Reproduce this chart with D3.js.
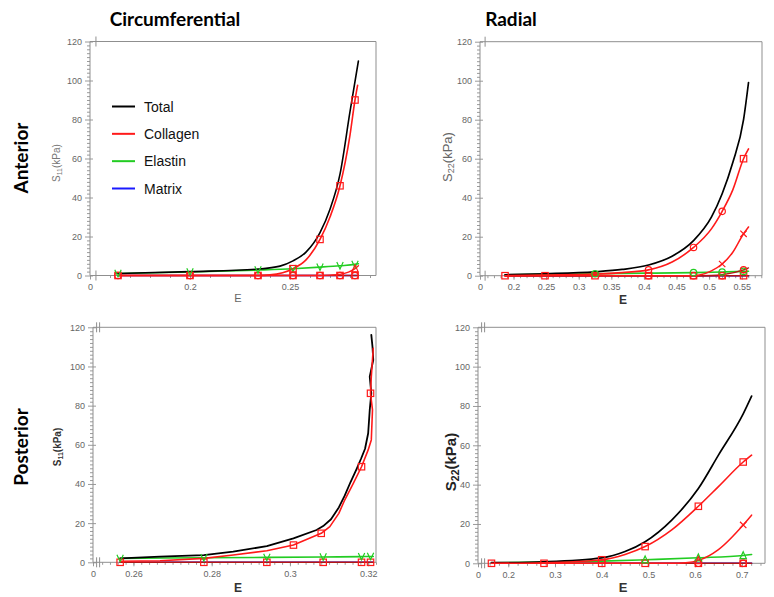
<!DOCTYPE html>
<html>
<head>
<meta charset="utf-8">
<script src="https://cdn.jsdelivr.net/npm/d3@7"></script>
<style>
  body { margin: 0; background: #fff; }
  svg { display: block; }
</style>
</head>
<body>
<svg id="chart" width="774" height="597"></svg>
<script>
// ---------------- data ----------------
const legendLabels = ["Total", "Collagen", "Elastin", "Matrix"];
const yTicks = [0, 20, 40, 60, 80, 100, 120];

// Anterior – circumferential (S11 vs E)
const acSampleE = [0.164, 0.200, 0.234, 0.2515, 0.265, 0.275, 0.2825];
const acTotalE  = [0.164, 0.200, 0.234, 0.245, 0.2515, 0.258, 0.265, 0.270, 0.275, 0.280, 0.2842];
const acTotalS  = [1.0, 2.0, 3.3, 4.8, 7.5, 12, 22, 34, 52, 84, 110];
const acColE    = [0.164, 0.200, 0.234, 0.240, 0.2515, 0.258, 0.265, 0.270, 0.275, 0.280, 0.2825, 0.2838];
const acColS    = [0, 0, 0, 0.3, 3.5, 8, 18.5, 30, 46, 72, 90, 97.5];
const acCol2E   = [0.164, 0.200, 0.234, 0.2515, 0.265, 0.270, 0.275, 0.2825, 0.2842];
const acCol2S   = [0, 0, 0, 0, 0, 0.2, 0.6, 3.5, 5];
const acElaE    = [0.164, 0.200, 0.234, 0.2515, 0.265, 0.275, 0.2825, 0.2842];
const acElaS    = [1.0, 1.8, 2.8, 3.5, 4.3, 5.0, 5.7, 6.0];
const acZeroE   = [0.164, 0.200, 0.234, 0.2515, 0.265, 0.275, 0.2825, 0.2842];
const acZeroS   = [0, 0, 0, 0, 0, 0, 0, 0];

// Anterior – radial (S22 vs E)
const arSampleE = [0.187, 0.2483, 0.325, 0.4071, 0.4761, 0.520, 0.5528];
const arTotalE  = [0.187, 0.2483, 0.325, 0.3666, 0.4071, 0.4432, 0.4761, 0.5035, 0.520, 0.5363, 0.5528, 0.5604];
const arTotalS  = [0.5, 1.0, 2.0, 3.2, 5.5, 10, 18, 30, 42, 58, 80, 99];
const arColE    = [0.187, 0.2483, 0.325, 0.3666, 0.4071, 0.4432, 0.4761, 0.5035, 0.520, 0.5363, 0.5528, 0.5604];
const arColS    = [0, 0.3, 0.8, 1.6, 3, 7, 14.5, 24, 33, 44, 60, 65];
const arCol2E   = [0.187, 0.2483, 0.325, 0.4071, 0.4761, 0.487, 0.5035, 0.520, 0.5363, 0.5528, 0.5604];
const arCol2S   = [0, 0, 0, 0, 0, 0.5, 2.5, 6, 12, 21.5, 25];
const arCol3E   = [0.187, 0.2483, 0.325, 0.4071, 0.4761, 0.5035, 0.520, 0.5528, 0.5604];
const arCol3S   = [0, 0, 0, 0, 0, 0.1, 0.5, 3, 4];
const arElaE    = [0.187, 0.2483, 0.325, 0.4071, 0.4761, 0.520, 0.5528, 0.5604];
const arElaS    = [0.5, 0.7, 1.0, 1.3, 1.6, 1.9, 2.2, 2.3];
const arZeroE   = [0.187, 0.2483, 0.325, 0.4071, 0.4761, 0.520, 0.5528, 0.5604];
const arZeroS   = [0, 0, 0, 0, 0, 0, 0, 0];

// Posterior – circumferential (S11 vs E)
const pcSampleE = [0.2566, 0.2780, 0.2941, 0.3085, 0.3183, 0.3206];
const pcTotalE  = [0.2566, 0.2668, 0.2780, 0.2855, 0.2941, 0.3009, 0.3068, 0.3085, 0.3105, 0.3125, 0.3140, 0.3155, 0.3170, 0.3182, 0.3192, 0.3200, 0.3204, 0.3208, 0.3204, 0.3213, 0.3211, 0.3208];
const pcTotalS  = [2.0, 2.9, 3.7, 5.4, 8.3, 12.2, 16.5, 18.5, 22, 28, 34, 41, 47.5, 53, 58, 65.9, 77.8, 86.3, 94.8, 103.3, 110.1, 116.1];
const pcColE    = [0.2566, 0.2668, 0.2780, 0.2855, 0.2941, 0.3009, 0.3080, 0.3102, 0.3125, 0.3140, 0.3162, 0.3183, 0.3200, 0.3208, 0.3211, 0.3206, 0.3208, 0.3213];
const pcColS    = [0.5, 0.8, 2.0, 3.7, 5.9, 8.8, 14.8, 18.2, 25, 31.8, 40.3, 48.8, 57.4, 62.5, 77.8, 86.3, 94.8, 109.3];
const pcElaE    = [0.2566, 0.2780, 0.2941, 0.3085, 0.3183, 0.3206, 0.3213];
const pcElaS    = [2.0, 2.3, 2.5, 2.7, 2.9, 3.0, 3.0];
const pcZeroE   = [0.2566, 0.2780, 0.2941, 0.3085, 0.3183, 0.3206, 0.3213];
const pcZeroS   = [0, 0, 0, 0, 0, 0, 0];

// Posterior – radial (S22 vs E)
const prSampleE = [0.164, 0.2765, 0.400, 0.493, 0.607, 0.703];
const prTotalE  = [0.164, 0.2765, 0.400, 0.450, 0.493, 0.550, 0.607, 0.650, 0.703, 0.721];
const prTotalS  = [0.3, 0.8, 2.8, 6, 11, 22, 38, 55, 76, 85];
const prColE    = [0.164, 0.2765, 0.400, 0.450, 0.493, 0.550, 0.607, 0.650, 0.703, 0.721];
const prColS    = [0, 0.3, 1.8, 4.5, 8.5, 17, 29, 39, 51.5, 55];
const prCol2E   = [0.164, 0.2765, 0.400, 0.493, 0.550, 0.580, 0.607, 0.650, 0.703, 0.721];
const prCol2S   = [0, 0, 0, 0, 0, 0.3, 1.5, 7, 19.5, 24.5];
const prElaE    = [0.164, 0.2765, 0.400, 0.493, 0.607, 0.703, 0.721];
const prElaS    = [0.3, 0.6, 1.1, 1.8, 2.8, 4.0, 4.5];
const prZeroE   = [0.164, 0.2765, 0.400, 0.493, 0.607, 0.703, 0.721];
const prZeroS   = [0, 0, 0, 0, 0, 0, 0];

// ---------------- styling ----------------
const COLORS = { total: "#000000", collagen: "#ff1a1a", elastin: "#22cc22", matrix: "#1a1aff", zero: "#b31515" };
const FRAME = "#8f8f8f";
const TICK_TXT = "#666";
const FONT = '"Liberation Sans", Arial, Helvetica, sans-serif';
const HEAD_FONT = 'Lato, "Open Sans", sans-serif';

const svg = d3.select("#chart");

const pairs = (E, S) => E.map((e, i) => [e, S[i]]);
const fmtTick = v => String(+v.toFixed(3));

const panels = [
  {
    axisX: 90, breakX: 97, right: 376, top: 41.5, bottom: 275.5,
    dom: [0.1535, 0.293], major: [0.2, 0.25], minor: d3.range(0.16, 0.2905, 0.01),
    breaks: 1, sub: "11",
    yTitle: { x: 57, y: 163, size: 10, weight: "normal", fill: "#777" },
    eTitle: { x: 238, y: 302, size: 11, weight: "normal", fill: "#666" },
    legend: true,
    series: [
      { E: acZeroE, S: acZeroS, color: COLORS.matrix, w: 1.6, marks: [] },
      { E: acZeroE, S: acZeroS, color: COLORS.zero, w: 1.6, marks: [["square", acSampleE], ["circle", acSampleE]], mcolor: COLORS.collagen },
      { E: acElaE, S: acElaS, color: COLORS.elastin, w: 1.6, marks: [["v", acSampleE]] },
      { E: acCol2E, S: acCol2S, color: COLORS.collagen, w: 1.4, marks: [["tri", [0.2825]]] },
      { E: acTotalE, S: acTotalS, color: COLORS.total, w: 1.6, marks: [] },
      { E: acColE, S: acColS, color: COLORS.collagen, w: 1.6, marks: [["square", [0.2515, 0.265, 0.275, 0.2825]]] }
    ]
  },
  {
    axisX: 480, breakX: 486, right: 762, top: 41.7, bottom: 275.7,
    dom: [0.1578, 0.5811], major: [0.2, 0.25, 0.3, 0.35, 0.4, 0.45, 0.5, 0.55], minor: d3.range(0.16, 0.581, 0.01),
    breaks: 1, sub: "22",
    yTitle: { x: 449, y: 157, size: 13, weight: "normal", fill: "#666" },
    eTitle: { x: 623, y: 304, size: 12, weight: "bold", fill: "#333" },
    series: [
      { E: arZeroE, S: arZeroS, color: COLORS.matrix, w: 1.6, marks: [] },
      { E: arZeroE, S: arZeroS, color: COLORS.zero, w: 1.6, marks: [["square", arSampleE], ["circle", [0.4071, 0.4761, 0.52]]], mcolor: COLORS.collagen },
      { E: arElaE, S: arElaS, color: COLORS.elastin, w: 1.6, marks: [["circle", [0.325, 0.4761, 0.52, 0.5528]]] },
      { E: arCol3E, S: arCol3S, color: COLORS.zero, w: 1.4, marks: [["circle", [0.5528]]], mcolor: COLORS.collagen },
      { E: arCol2E, S: arCol2S, color: COLORS.collagen, w: 1.5, marks: [["x", [0.52, 0.5528]]] },
      { E: arTotalE, S: arTotalS, color: COLORS.total, w: 1.7, marks: [] },
      { E: arColE, S: arColS, color: COLORS.collagen, w: 1.6, marks: [["circle", [0.4071, 0.4761, 0.52]], ["square", [0.5528]]] }
    ]
  },
  {
    axisX: 93, breakX: 99, right: 376, top: 327.3, bottom: 562.3,
    dom: [0.2512, 0.3220], major: [0.26, 0.28, 0.3, 0.32], minor: d3.range(0.252, 0.3221, 0.002),
    breaks: 2, sub: "11",
    yTitle: { x: 58, y: 447, size: 10, weight: "bold", fill: "#333" },
    eTitle: { x: 238, y: 592, size: 12, weight: "bold", fill: "#333" },
    series: [
      { E: pcZeroE, S: pcZeroS, color: COLORS.matrix, w: 1.6, marks: [] },
      { E: pcZeroE, S: pcZeroS, color: COLORS.zero, w: 1.6, marks: [["square", pcSampleE]], mcolor: COLORS.collagen },
      { E: pcElaE, S: pcElaS, color: COLORS.elastin, w: 1.6, marks: [["v", pcSampleE]] },
      { E: pcTotalE, S: pcTotalS, color: COLORS.total, w: 1.8, marks: [], linear: true },
      { E: pcColE, S: pcColS, color: COLORS.collagen, w: 1.6, marks: [["square", [0.3009, 0.3080, 0.3183, 0.3206]]], linear: true }
    ]
  },
  {
    axisX: 478, breakX: 484, right: 765, top: 327.3, bottom: 563.3,
    dom: [0.148, 0.7497], major: [0.2, 0.3, 0.4, 0.5, 0.6, 0.7], minor: d3.range(0.16, 0.741, 0.02),
    breaks: 2, sub: "22",
    yTitle: { x: 452, y: 462, size: 15, weight: "bold", fill: "#222" },
    eTitle: { x: 623, y: 592, size: 13, weight: "bold", fill: "#333" },
    series: [
      { E: prZeroE, S: prZeroS, color: COLORS.matrix, w: 1.6, marks: [] },
      { E: prZeroE, S: prZeroS, color: COLORS.zero, w: 1.6, marks: [["square", prSampleE], ["circle", [0.607, 0.703]]], mcolor: COLORS.collagen },
      { E: prElaE, S: prElaS, color: COLORS.elastin, w: 1.6, marks: [["tri", [0.493, 0.607, 0.703]]] },
      { E: prCol2E, S: prCol2S, color: COLORS.collagen, w: 1.5, marks: [["tri", [0.607]], ["x", [0.703]]] },
      { E: prTotalE, S: prTotalS, color: COLORS.total, w: 1.7, marks: [] },
      { E: prColE, S: prColS, color: COLORS.collagen, w: 1.6, marks: [["square", [0.4, 0.493, 0.607, 0.703]]] }
    ]
  }
];

function drawMarker(g, type, cx, cy, color) {
  const s = 3.2;
  let el;
  if (type === "square") {
    el = g.append("rect").attr("x", cx - s).attr("y", cy - s).attr("width", 2 * s).attr("height", 2 * s);
  } else if (type === "circle") {
    el = g.append("circle").attr("cx", cx).attr("cy", cy).attr("r", s);
  } else if (type === "tri") {
    el = g.append("path").attr("d", `M${cx},${cy - s - 0.6}L${cx + s},${cy + s}L${cx - s},${cy + s}Z`);
  } else if (type === "x") {
    el = g.append("path").attr("d", `M${cx - s},${cy - s}L${cx + s},${cy + s}M${cx + s},${cy - s}L${cx - s},${cy + s}`);
  } else {
    el = g.append("path").attr("d", `M${cx - s},${cy - s - 0.5}L${cx},${cy + s}L${cx + s},${cy - s - 0.5}`);
  }
  el.attr("fill", "none").attr("stroke", color).attr("stroke-width", 1.2);
}

function styleAxis(sel) {
  sel.select(".domain").remove();
  sel.selectAll(".tick line").attr("stroke", FRAME).attr("stroke-width", 0.9);
  sel.selectAll(".tick text").attr("fill", TICK_TXT).attr("font-family", FONT).attr("font-size", 9);
}

function drawPanel(p) {
  const g = svg.append("g");
  const x = d3.scaleLinear().domain(p.dom).range([p.breakX, p.right]);
  const y = d3.scaleLinear().domain([0, 120]).range([p.bottom, p.top]);

  // y axis: labelled major ticks crossing the spine, dense minor ticks outside
  const yMinor = d3.range(2, 120, 2).filter(v => v % 20 !== 0);
  g.append("g").attr("transform", `translate(${p.axisX},0)`)
    .call(d3.axisLeft(y).tickValues(yMinor).tickSize(3).tickFormat(""))
    .call(styleAxis);
  g.append("g").attr("transform", `translate(${p.axisX},0)`)
    .call(d3.axisLeft(y).tickValues(yTicks).tickSize(5).tickPadding(3))
    .call(styleAxis);
  g.append("g").attr("transform", `translate(${p.axisX},0)`)
    .call(d3.axisRight(y).tickValues(yTicks).tickSize(3).tickFormat(""))
    .call(styleAxis);

  // x axis: a lone "0" at the spine, then the broken-off data range
  const zeroScale = d3.scaleLinear().domain([0, 1]).range([p.axisX, p.axisX + 100]);
  g.append("g").attr("transform", `translate(0,${p.bottom})`)
    .call(d3.axisBottom(zeroScale).tickValues([0]).tickSize(4).tickPadding(4).tickFormat(() => "0"))
    .call(styleAxis);
  g.append("g").attr("transform", `translate(0,${p.bottom})`)
    .call(d3.axisBottom(x).tickValues(p.minor.filter(v => v >= p.dom[0] && v <= p.dom[1])).tickSize(2.5).tickFormat(""))
    .call(styleAxis);
  g.append("g").attr("transform", `translate(0,${p.bottom})`)
    .call(d3.axisBottom(x).tickValues(p.major).tickSize(4).tickPadding(4).tickFormat(fmtTick))
    .call(styleAxis);

  // frame
  g.append("path")
    .attr("d", `M${p.axisX},${p.bottom}V${p.top}H${p.right}V${p.bottom}H${p.axisX}`)
    .attr("fill", "none").attr("stroke", FRAME).attr("stroke-width", 1);

  // axis break marks on the bottom spine and the top border
  const bx = p.axisX + (p.breakX - p.axisX) * 0.85;
  const offs = p.breaks === 2 ? [-1.5, 1.5] : [0];
  [p.bottom, p.top].forEach(yy => {
    offs.forEach(o => {
      g.append("line").attr("x1", bx + o).attr("x2", bx + o)
        .attr("y1", yy - 5).attr("y2", yy + 5)
        .attr("stroke", FRAME).attr("stroke-width", 1);
    });
  });

  // series
  const clipId = "clip" + Math.round(p.axisX) + Math.round(p.top);
  svg.append("clipPath").attr("id", clipId).append("rect")
    .attr("x", p.axisX).attr("y", p.top - 10).attr("width", p.right - p.axisX + 2).attr("height", p.bottom - p.top + 20);
  const lg = g.append("g").attr("clip-path", `url(#${clipId})`);
  p.series.forEach(s => {
    const line = d3.line().x(d => x(d[0])).y(d => y(d[1]))
      .curve(s.linear ? d3.curveLinear : d3.curveMonotoneX);
    lg.append("path").datum(pairs(s.E, s.S))
      .attr("d", line).attr("fill", "none")
      .attr("stroke", s.color).attr("stroke-width", s.w)
      .attr("stroke-linejoin", "round").attr("stroke-linecap", "round");
  });
  p.series.forEach(s => {
    s.marks.forEach(([type, list]) => {
      list.forEach(e => {
        const i = d3.minIndex(s.E, v => Math.abs(v - e));
        drawMarker(lg, type, x(s.E[i]), y(s.S[i]), s.mcolor || s.color);
      });
    });
  });

  // axis titles
  const yt = g.append("text")
    .attr("transform", `translate(${p.yTitle.x},${p.yTitle.y}) rotate(-90)`)
    .attr("text-anchor", "middle").attr("dominant-baseline", "middle")
    .attr("font-family", FONT).attr("font-size", p.yTitle.size)
    .attr("font-weight", p.yTitle.weight).attr("fill", p.yTitle.fill);
  yt.append("tspan").text("S");
  yt.append("tspan").attr("font-size", p.yTitle.size * 0.7).attr("dy", p.yTitle.size * 0.25).text(p.sub);
  yt.append("tspan").attr("dy", -p.yTitle.size * 0.25).text("(kPa)");

  g.append("text").attr("x", p.eTitle.x).attr("y", p.eTitle.y)
    .attr("text-anchor", "middle").attr("font-family", FONT)
    .attr("font-size", p.eTitle.size).attr("font-weight", p.eTitle.weight)
    .attr("fill", p.eTitle.fill).text("E");

  if (p.legend) {
    const legendColors = [COLORS.total, COLORS.collagen, COLORS.elastin, COLORS.matrix];
    const rowY = d3.scalePoint().domain(legendLabels).range([106.5, 188.5]);
    const leg = g.append("g");
    legendLabels.forEach((lab, i) => {
      leg.append("line").attr("x1", 112).attr("x2", 135)
        .attr("y1", rowY(lab)).attr("y2", rowY(lab))
        .attr("stroke", legendColors[i]).attr("stroke-width", 2);
      leg.append("text").attr("x", 144).attr("y", rowY(lab) + 5)
        .attr("font-family", FONT).attr("font-size", 14).attr("fill", "#111").text(lab);
    });
  }
}

panels.forEach(drawPanel);

// column and row headings
svg.append("text").attr("x", 175).attr("y", 26).attr("text-anchor", "middle")
  .attr("font-family", HEAD_FONT).attr("font-weight", "bold").attr("font-size", 19).text("Circumferential");
svg.append("text").attr("x", 511).attr("y", 26).attr("text-anchor", "middle")
  .attr("font-family", HEAD_FONT).attr("font-weight", "bold").attr("font-size", 19).text("Radial");
svg.append("text").attr("transform", "translate(28,158) rotate(-90)").attr("text-anchor", "middle")
  .attr("font-family", HEAD_FONT).attr("font-weight", "bold").attr("font-size", 19).text("Anterior");
svg.append("text").attr("transform", "translate(28,447) rotate(-90)").attr("text-anchor", "middle")
  .attr("font-family", HEAD_FONT).attr("font-weight", "bold").attr("font-size", 19).text("Posterior");
</script>
</body>
</html>
